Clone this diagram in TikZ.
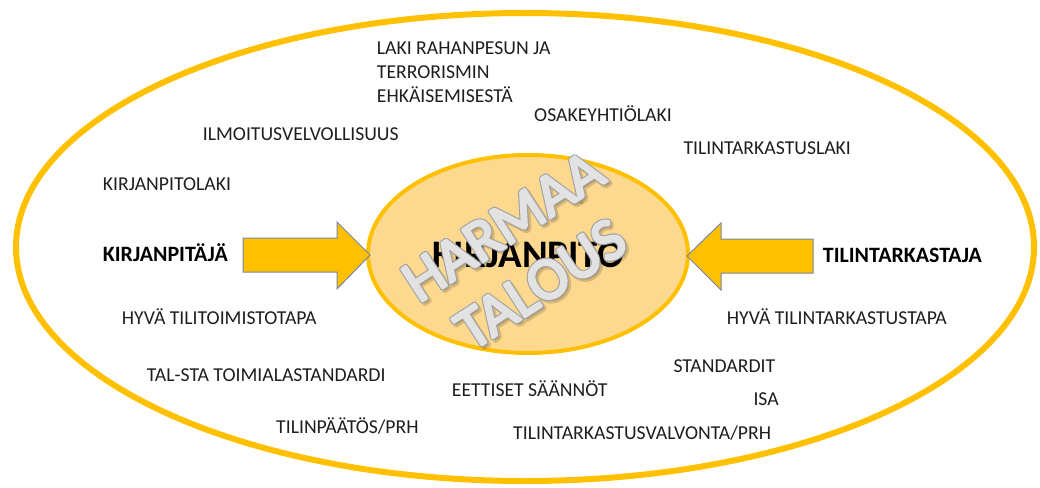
\documentclass[tikz,border=0pt]{standalone}
\usepackage{fontspec}
\setmainfont{Carlito}
\usetikzlibrary{shapes.geometric}

\definecolor{gold}{HTML}{FFC000}
\definecolor{paleorange}{HTML}{FDD88F}
\definecolor{arrowedge}{HTML}{7487A6}
\definecolor{inktext}{HTML}{1E1E1E}
\definecolor{wordfill}{HTML}{E2E2E2}
\definecolor{wordrim}{HTML}{A0A0A0}

% fill the glyphs and stroke their outlines: #1 width, #2 grey level
\newcommand{\strokedtext}[3]{%
  \special{pdf:literal direct 2 Tr 1 j #1 w #2 #2 #2 RG}#3%
  \special{pdf:literal direct 0 Tr}}

\begin{document}
\begin{tikzpicture}[x=1pt,y=-1pt,
  term/.style={anchor=base west, inner sep=0pt, text=inktext,
    font=\fontsize{19.7}{24}\selectfont},
  role/.style={anchor=base west, inner sep=0pt, text=black,
    font=\bfseries\fontsize{21.9}{25}\selectfont},
  blockarrow/.style={fill=gold, draw=arrowedge, line width=1pt, line join=miter},
  wordbase/.style={inner sep=0pt, rotate=33, font=\fontsize{60}{68}\selectfont},
  wordshadow/.style={wordbase, text=black, opacity=0.15},
  wordrimstyle/.style={wordbase, text=wordrim},
  wordart/.style={wordbase, text=wordfill}]
\useasboundingbox (0,0) rectangle (1040,487);

% outer frame and the central field
\node[ellipse, draw=gold, line width=6pt, minimum width=1018pt,
  minimum height=468pt] (frame) at (525,247) {};
\node[ellipse, draw=gold, fill=paleorange, line width=4pt,
  minimum width=320pt, minimum height=198pt] (core) at (528,254) {};

% block arrows pointing at the centre
\draw[blockarrow] (243,238) -- (337,238) -- (337,222) -- (370,255)
  -- (337,289) -- (337,272) -- (243,272) -- cycle;
\draw[blockarrow] (813,239) -- (721,239) -- (721,223) -- (687,256)
  -- (721,290) -- (721,273) -- (813,273) -- cycle;

% central title
\node[inner sep=0pt, font=\bfseries\fontsize{39}{45}\selectfont] (title)
  at (528,255) {KIRJANPITO};

% rotated overlay text: shadow, grey rim, light face
\node[wordshadow] (harmaas) at (505.5,228.5) {\strokedtext{4.6}{0}{HARMAA}};
\node[wordshadow] (talouss) at (543,286.5) {\strokedtext{4.6}{0}{TALOUS}};
\node[wordrimstyle] (harmaar) at (503,226) {\strokedtext{4.6}{0.63}{HARMAA}};
\node[wordrimstyle] (talousr) at (540.5,284) {\strokedtext{4.6}{0.63}{TALOUS}};
\node[wordart] (harmaa) at (503,226) {\strokedtext{2.4}{0.886}{HARMAA}};
\node[wordart] (talous) at (540.5,284) {\strokedtext{2.4}{0.886}{TALOUS}};

% roles
\node[role] (kirjanpitaja) at (102.7,261.7) {KIRJANPITÄJÄ};
\node[role] (tilintarkastaja) at (822.7,262.7) {TILINTARKASTAJA};

% surrounding rules and norms
\node[term, anchor=north west, align=left] (rahanpesu) at (376.7,41.7)
  {LAKI RAHANPESUN JA\\TERRORISMIN\\EHKÄISEMISESTÄ};
\node[term] (ilmoitus) at (202.7,140) {ILMOITUSVELVOLLISUUS};
\node[term] (osakeyhtio) at (534,121.7) {OSAKEYHTIÖLAKI};
\node[term] (ttlaki) at (683.3,154) {TILINTARKASTUSLAKI};
\node[term] (kplaki) at (102.7,190) {KIRJANPITOLAKI};
\node[term] (tilitoimisto) at (121.7,324) {HYVÄ TILITOIMISTOTAPA};
\node[term] (ttapa) at (726.7,324) {HYVÄ TILINTARKASTUSTAPA};
\node[term] (talsta) at (146.7,381.7) {TAL-STA TOIMIALASTANDARDI};
\node[term] (eettiset) at (451.7,396.7) {EETTISET SÄÄNNÖT};
\node[term] (standardit) at (673.3,372.3) {STANDARDIT};
\node[term] (isa) at (753.3,405.7) {ISA};
\node[term] (tilinpaatos) at (276,433.3) {TILINPÄÄTÖS/PRH};
\node[term] (valvonta) at (513,439) {TILINTARKASTUSVALVONTA/PRH};
\end{tikzpicture}
\end{document}
